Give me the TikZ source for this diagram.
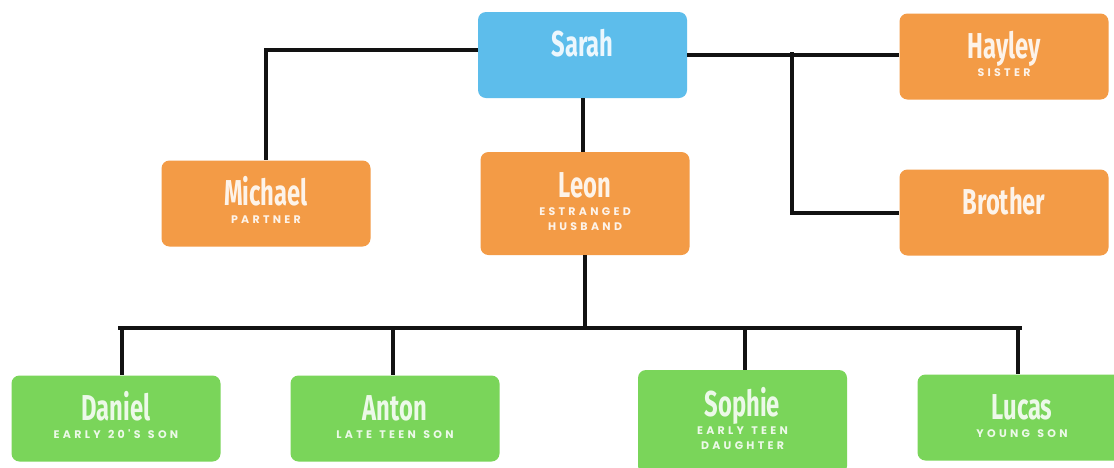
\documentclass[tikz,border=0pt]{standalone}
\usepackage{fontspec}
\newfontfamily\namefam{Fira Sans}[FakeStretch=0.66]
\newfontfamily\subfam{Poppins}[LetterSpace=30,WordSpace=1.3]
\definecolor{sblue}{HTML}{5DBDEB}
\definecolor{sorange}{HTML}{F39B46}
\definecolor{sgreen}{HTML}{7AD55A}
\definecolor{ink}{HTML}{121212}
\newcommand\nmline[1]{{\namefam\bfseries\fontsize{36}{36}\selectfont\rule[-2pt]{0pt}{25pt}\smash{#1}}}
\newcommand\sbline[1]{{\subfam\bfseries\fontsize{11}{11}\selectfont\rule[-2pt]{0pt}{18pt}\smash{#1}}}
\newcommand\sbnext[1]{{\subfam\bfseries\fontsize{11}{11}\selectfont\rule[-2pt]{0pt}{15pt}\smash{#1}}}
\tikzset{
  card/.style={rounded corners=8pt, minimum width=209pt, minimum height=86pt,
    inner sep=0pt, align=center, font=\offinterlineskip},
  bluecard/.style={card, fill=sblue, text=white!88!sblue},
  orangecard/.style={card, fill=sorange, text=white!88!sorange},
  greencard/.style={card, fill=sgreen, text=white!86!sgreen},
  conn/.style={draw=ink, line width=4pt}
}
\begin{document}
\begin{tikzpicture}[x=1pt,y=-1pt]
\useasboundingbox (0,0) rectangle (1114,467);
\clip (0,0) rectangle (1114,467);
\fill[white] (0,0) rectangle (1114,467);
% top row
\node[bluecard] (sarah) at (582.5,55) {\nmline{Sarah}\\\sbline{}};
\node[orangecard] (hayley) at (1004,56.5) {\nmline{Hayley}\\\sbline{SISTER}};
% middle row
\node[orangecard] (michael) at (266,203.5) {\nmline{Michael}\\\sbline{PARTNER}};
\node[orangecard, minimum height=103pt] (leon) at (585,203.5) {\nmline{Leon}\\\sbline{ESTRANGED}\\\sbnext{HUSBAND}};
\node[orangecard] (brother) at (1004,212.5) {\nmline{Brother}\\\sbline{}};
% children
\node[greencard] (daniel) at (116,418.5) {\nmline{Daniel}\\\sbline{EARLY 20'S SON}};
\node[greencard] (anton) at (395,418.5) {\nmline{Anton}\\\sbline{LATE TEEN SON}};
\node[greencard, minimum height=104pt] (sophie) at (742.5,422) {\nmline{Sophie}\\\sbline{EARLY TEEN}\\\sbnext{DAUGHTER}};
\node[greencard] (lucas) at (1022,417.5) {\nmline{Lucas}\\\sbline{YOUNG SON}};
% connectors
\coordinate (mcorner) at (266,50);
\draw[conn] (sarah.west |- mcorner) -- (mcorner) -- (michael.north);
\draw[conn] (sarah.east) -- (sarah.east -| hayley.west);
\coordinate (bj) at (792,52);
\draw[conn] (bj) -- (bj |- brother.west) -- (brother.west);
\draw[conn] (sarah.south) -- (sarah.south |- leon.north);
\coordinate (busL) at (118,328);
\coordinate (busR) at (1022,328);
\draw[conn] (leon.south) -- (leon.south |- busL);
\draw[conn] (busL) -- (busR);
\coordinate (dD) at (122,328);
\coordinate (dA) at (393,328);
\coordinate (dS) at (745,328);
\coordinate (dL) at (1018,328);
\draw[conn] (dD) -- (dD |- daniel.north);
\draw[conn] (dA) -- (dA |- anton.north);
\draw[conn] (dS) -- (dS |- sophie.north);
\draw[conn] (dL) -- (dL |- lucas.north);
\end{tikzpicture}
\end{document}
